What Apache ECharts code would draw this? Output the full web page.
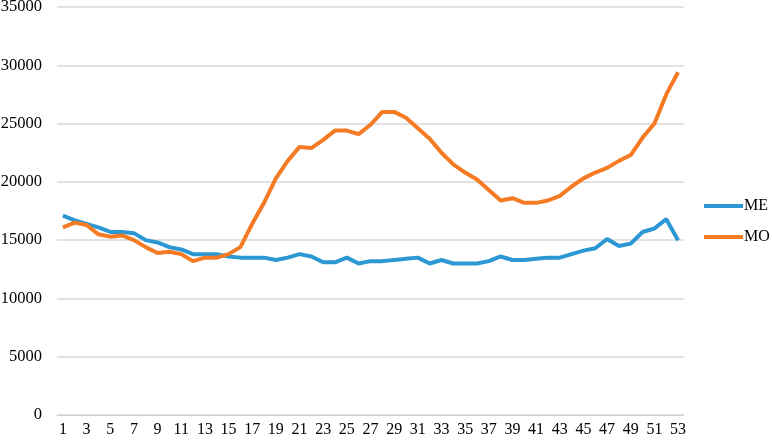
<!DOCTYPE html>
<html>
<head>
<meta charset="utf-8">
<script src="https://cdn.jsdelivr.net/npm/echarts@6/dist/echarts.min.js"></script>
<style>
  html, body { margin: 0; padding: 0; background: #fff; }
  #chart { width: 772px; height: 442px; }
</style>
</head>
<body>
<div id="chart"></div>
<script>
// weeks 1..53
var weeks = [];
for (var i = 1; i <= 53; i++) weeks.push(String(i));

var meValues = [
  17100, 16700, 16400, 16100, 15700, 15700, 15600, 15000, 14800, 14400,
  14200, 13800, 13800, 13800, 13600, 13500, 13500, 13500, 13300, 13500,
  13800, 13600, 13100, 13100, 13500, 13000, 13200, 13200, 13300, 13400,
  13500, 13000, 13300, 13000, 13000, 13000, 13200, 13600, 13300, 13300,
  13400, 13500, 13500, 13800, 14100, 14300, 15100, 14500, 14700, 15700,
  16000, 16800, 15000
];

var moValues = [
  16100, 16500, 16300, 15500, 15300, 15400, 15000, 14400, 13900, 14000,
  13800, 13200, 13500, 13500, 13800, 14400, 16400, 18200, 20300, 21800,
  23000, 22900, 23600, 24400, 24400, 24100, 24900, 26000, 26000, 25500,
  24600, 23700, 22500, 21500, 20800, 20200, 19300, 18400, 18600, 18200,
  18200, 18400, 18800, 19600, 20300, 20800, 21200, 21800, 22300, 23800,
  25000, 27500, 29400
];

var yTicks = { min: 0, max: 35000, step: 5000 };

var font = '"Liberation Serif", "Times New Roman", serif';

var chart = echarts.init(document.getElementById('chart'));
chart.setOption({
  animation: false,
  textStyle: { fontFamily: font },
  grid: { left: 57, right: 88, top: 7, bottom: 27, containLabel: false, outerBoundsMode: 'none' },
  legend: {
    orient: 'vertical',
    left: 704,
    top: 198,
    padding: 0,
    itemWidth: 39,
    itemHeight: 16,
    itemGap: 15,
    icon: 'path://M0,6 L39,6 L39,10 L0,10 Z',
    textStyle: { fontFamily: font, fontSize: 16, color: '#000', padding: [0, 0, 0, -4] },
    data: ['ME', 'MO']
  },
  xAxis: {
    type: 'category',
    data: weeks,
    boundaryGap: true,
    axisLine: { lineStyle: { color: '#d0d0d0', width: 1 } },
    axisTick: { interval: 0, length: 5, lineStyle: { color: '#d0d0d0' } },
    axisLabel: { interval: 1, color: '#000', fontSize: 16, margin: 7, fontFamily: font }
  },
  yAxis: {
    type: 'value',
    min: yTicks.min,
    max: yTicks.max,
    interval: yTicks.step,
    axisLine: { show: false },
    axisTick: { show: false },
    axisLabel: {
      color: '#000', fontSize: 16.5, margin: 15, fontFamily: font,
      formatter: function (v) { return String(v); }
    },
    splitLine: { lineStyle: { color: '#d9d9d9', width: 1.5 } }
  },
  series: [
    {
      name: 'ME',
      type: 'line',
      data: meValues,
      symbol: 'none',
      lineStyle: { width: 4, color: '#2b98d3' },
      itemStyle: { color: '#2b98d3' }
    },
    {
      name: 'MO',
      type: 'line',
      data: moValues,
      symbol: 'none',
      lineStyle: { width: 4, color: '#f47b24' },
      itemStyle: { color: '#f47b24' }
    }
  ]
});
</script>
</body>
</html>
